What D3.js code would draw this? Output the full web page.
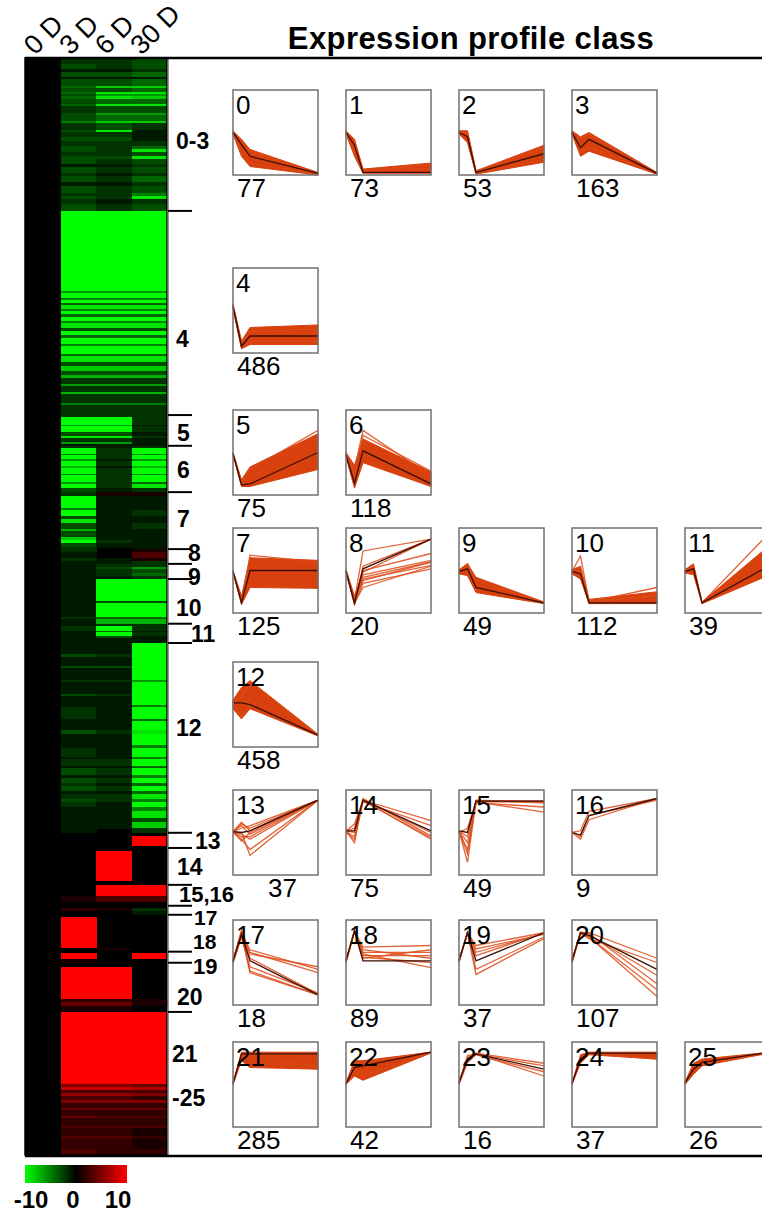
<!DOCTYPE html>
<html>
<head>
<meta charset="utf-8">
<script src="https://cdn.jsdelivr.net/npm/d3@7"></script>
<style>
  body { margin: 0; background: #fff; }
  svg { display: block; font-family: "Liberation Sans", Arial, sans-serif; }
</style>
</head>
<body>
<div id="chart"></div>
<script>
// ---- data ----
var timePoints = [0, 3, 6, 30];
var timeLabels = ['0 D', '3 D', '6 D', '30 D'];

// heatmap groups, top to bottom, and their height in heatmap rows
var groupLabels = ['0-3', '4', '5', '6', '7', '8', '9', '10', '11', '12',
                   '13', '14', '15,16', '17', '18', '19', '20', '21-25'];
var groupRows = [373, 498, 75, 113, 139, 36, 37, 109, 47, 463,
                 37, 90, 51, 22, 90, 27, 120, 349];

// stripes inside each group: [relative size, 3 D, 6 D, 30 D] (0 D is the reference = 0)
var groupStripes = [
  [[6,-2,-2,-3],[4,-3,-2,-3],[3,-1,-1,-2],[5,-3,-3,-4],[2,-1,-1,-1],[6,-3,-3,-4],
   [2,-4,-8,-8],[4,-3,-3,-4],[2,-4,-9,-9],[2,-3,-6,-6],[2,-4,-9,-8],[5,-3,-4,-4],
   [2,-4,-9,-9],[6,-2,-3,-3],[2,-3,-6,-6],[6,-3,-4,-4],[2,-5,-8,-8],[6,-2,-3,-2],
   [2,-3,-9,-1],[5,-2,-2,-1],[4,-3,-3,-1],[4,-2,-2,-2],[3,-3,-2,-4],[3,-3,-2,-9],
   [4,-2,-2,-3],[2,-3,-3,-9],[5,-3,-2,-3],[3,-1,-1,-2],[6,-3,-2,-3],[2,-2,-1,-2],
   [6,-3,-2,-4],[4,-1,-1,-2],[6,-3,-2,-3],[3,-2,-2,-5],[3,-3,-2,-9],[5,-2,-1,-2],
   [6,-3,-2,-3]],
  [[78,-10,-10,-10],[2,-6,-6,-6],[4,-10,-10,-10],[2,-5,-5,-5],[3,-10,-10,-10],
   [2,-4,-4,-4],[4,-9,-9,-9],[2,-5,-5,-5],[3,-10,-10,-10],[3,-4,-4,-4],
   [4,-10,-10,-10],[2,-5,-5,-5],[5,-9,-9,-9],[2,-3,-3,-3],[4,-10,-10,-10],
   [3,-4,-4,-4],[6,-10,-10,-10],[2,-5,-5,-5],[8,-10,-10,-10],[2,-4,-4,-4],
   [6,-9,-9,-9],[3,-3,-3,-3],[5,-8,-8,-8],[4,-3,-3,-3],[3,-7,-7,-7],[6,-2,-2,-2],
   [2,-6,-6,-6],[6,-2,-2,-2],[2,-7,-7,-7],[8,-2,-2,-2],[2,-5,-5,-5],[10,-2,-2,-2]],
  [[2,-2,-2,-2],[8,-10,-10,-2],[1,-6,-6,-1],[6,-10,-10,-2],[4,-3,-3,-1],
   [2,-9,-9,-2],[4,-2,-2,-1],[2,-6,-6,-1],[2,-1,-1,-1]],
  [[2,-2,-1,-2],[6,-10,-2,-10],[1,-5,-2,-5],[4,-10,-2,-10],[1,-6,-1,-6],
   [5,-10,-2,-10],[2,-7,-1,-7],[6,-10,-2,-10],[1,-5,-2,-5],[6,-10,-2,-10],
   [2,-6,-2,-4],[4,-10,-2,-9],[4,-3,-1,-2]],
  [[4,-2,1,1],[12,-10,-1,-1],[2,-5,-1,-1],[6,-10,-1,-2],[3,-3,-1,-1],[4,-9,-1,-1],
   [6,-3,-1,-2],[2,-7,-1,-1],[6,-3,-1,-1],[3,-8,-1,-1],[3,-10,-2,-1],[4,-3,-1,-1],
   [2,-2,0,-1]],
  [[3,-2,0,1],[6,-1,0,3],[3,-2,-1,1],[3,-1,-1,-2]],
  [[3,-1,-2,-2],[2,-1,-3,-6],[4,-1,-2,-3],[3,-1,-2,-4],[3,-1,-1,-2]],
  [[22,-1,-10,-10],[2,-1,-3,-3],[14,-1,-10,-10],[2,-2,-4,-4],[5,-1,-7,-7]],
  [[2,-1,-2,-2],[5,-2,-10,-2],[1,-1,-4,-1],[4,-1,-10,-2],[2,-1,-3,-1],[5,-1,-1,-1]],
  [[10,-1,-1,-10],[2,-3,-2,-10],[8,-1,-1,-10],[2,-3,-3,-10],[10,-1,-1,-10],
   [2,-2,-2,-6],[10,-1,-1,-10],[2,-3,-2,-10],[8,-1,-1,-10],[2,-1,-1,-5],
   [10,-2,-1,-10],[2,-1,-1,-4],[8,-1,-1,-10],[3,-3,-2,-9],[10,-1,-1,-10],
   [2,-1,-1,-5],[8,-2,-1,-10],[2,-1,-1,-5],[6,-2,-2,-10],[2,-1,-1,-4],
   [6,-3,-2,-10],[2,-1,-1,-5],[5,-3,-2,-10],[2,-2,-1,-4],[5,-3,-2,-10],
   [2,-1,-1,-4],[5,-2,-2,-9],[2,-3,-2,-5],[5,-2,-1,-10],[3,-1,-1,-5],
   [6,-1,-1,-9],[4,-1,-1,-3],[5,-1,-1,-8],[4,-1,0,-2]],
  [[3,0,0,0],[10,0,0,10],[2,0,0,0]],
  [[3,0,0,0],[30,0,10,0],[4,0,0,0]],
  [[11,0,10,10],[6,1,3,3],[4,0,0,0]],
  [[2,0,0,0],[3,2,1,-2],[4,0,0,-1]],
  [[2,0,0,0],[31,10,0,0],[2,0,1,0],[2,0,0,0]],
  [[1,0,0,0],[6,10,0,10],[4,1,0,0]],
  [[4,0,0,0],[32,10,10,0],[3,2,2,1],[4,4,4,1],[6,1,1,0]],
  [[72,10,10,10],[3,5,5,4],[3,8,8,7],[3,3,3,3],[3,6,6,5],[4,3,3,2],[3,5,5,5],
   [5,2,2,2],[2,4,4,4],[6,2,2,2],[2,4,3,3],[8,2,2,2],[2,3,3,3],[8,2,2,1],
   [3,3,3,2],[10,2,2,1],[6,3,2,2]]
];

// expression profile classes 0..25: number of genes
var classCounts = [77, 73, 53, 163, 486, 75, 118, 125, 20, 49, 112, 39, 458,
                   37, 75, 49, 9, 18, 89, 37, 107, 285, 42, 16, 37, 26];

// scaled profiles (0 = bottom of panel, 1 = top) at 0, 3, 6, 30 D
var profileMean = [
  [0.5,0.36,0.22,0.02], [0.5,0.35,0.03,0.03], [0.5,0.45,0.03,0.25], [0.5,0.32,0.42,0.02],
  [0.55,0.08,0.2,0.2], [0.49,0.12,0.13,0.5], [0.47,0.14,0.52,0.13], [0.49,0.12,0.5,0.5],
  [0.49,0.12,0.52,0.87], [0.49,0.52,0.3,0.12], [0.49,0.46,0.12,0.12], [0.49,0.52,0.12,0.56],
  [0.52,0.52,0.5,0.14], [0.51,0.5,0.52,0.88], [0.52,0.52,0.88,0.52], [0.52,0.5,0.87,0.87],
  [0.5,0.47,0.7,0.9], [0.52,0.83,0.52,0.12], [0.52,0.87,0.52,0.52], [0.52,0.85,0.52,0.85],
  [0.52,0.85,0.82,0.42], [0.51,0.86,0.86,0.86], [0.51,0.7,0.72,0.88], [0.52,0.8,0.86,0.68],
  [0.51,0.8,0.87,0.87], [0.52,0.68,0.76,0.88]
];
var profileLo = [
  [0.48,0.22,0.1,0.0], [0.48,0.22,0.02,0.02], [0.48,0.38,0.01,0.15], [0.48,0.22,0.28,0.01],
  [0.52,0.05,0.1,0.1], [0.47,0.1,0.1,0.3], [0.45,0.08,0.38,0.1], [0.48,0.1,0.3,0.29],
  null, [0.46,0.44,0.24,0.11], [0.46,0.4,0.11,0.11], [0.47,0.45,0.11,0.45],
  [0.45,0.33,0.45,0.13], null, null, null,
  null, null, null, null,
  null, [0.5,0.78,0.7,0.68], [0.5,0.6,0.55,0.87], null,
  [0.5,0.75,0.85,0.8], [0.5,0.62,0.72,0.87]
];
var profileHi = [
  [0.52,0.42,0.3,0.03], [0.52,0.42,0.07,0.14], [0.52,0.52,0.05,0.35], [0.52,0.45,0.5,0.03],
  [0.58,0.14,0.3,0.33], [0.5,0.18,0.33,0.72], [0.5,0.35,0.66,0.27], [0.5,0.2,0.65,0.62],
  null, [0.51,0.58,0.42,0.13], [0.51,0.55,0.16,0.25], [0.51,0.58,0.13,0.8],
  [0.55,0.7,0.78,0.15], null, null, null,
  null, null, null, null,
  null, [0.52,0.88,0.88,0.88], [0.52,0.78,0.78,0.88], null,
  [0.52,0.85,0.88,0.88], [0.53,0.75,0.8,0.88]
];
var profileLines = [
  [[0.5,0.4,0.28,0.02],[0.49,0.26,0.14,0.01]],
  [[0.5,0.4,0.05,0.12],[0.5,0.3,0.03,0.08]],
  [[0.5,0.5,0.04,0.32],[0.49,0.4,0.02,0.18]],
  [[0.5,0.42,0.48,0.02],[0.49,0.26,0.32,0.01]],
  [[0.55,0.12,0.25,0.28],[0.54,0.06,0.14,0.14]],
  [[0.49,0.14,0.3,0.76],[0.49,0.12,0.2,0.68]],
  [[0.47,0.3,0.76,0.22],[0.47,0.25,0.7,0.28]],
  [[0.49,0.12,0.68,0.6]],
  [[0.49,0.15,0.73,0.87],[0.5,0.1,0.55,0.87],[0.49,0.12,0.48,0.87],[0.48,0.14,0.42,0.6],
   [0.49,0.1,0.35,0.52],[0.5,0.18,0.4,0.56],[0.49,0.12,0.3,0.55],[0.5,0.2,0.45,0.62],
   [0.49,0.15,0.5,0.7],[0.5,0.14,0.38,0.6]],
  [[0.49,0.58,0.38,0.12]],
  [[0.49,0.67,0.14,0.2],[0.49,0.5,0.13,0.3],[0.5,0.45,0.12,0.22]],
  [[0.49,0.55,0.12,0.95]],
  [[0.52,0.6,0.77,0.14],[0.5,0.35,0.5,0.14]],
  [[0.51,0.62,0.52,0.88],[0.51,0.45,0.45,0.88],[0.5,0.5,0.23,0.88],[0.51,0.55,0.58,0.88],
   [0.5,0.42,0.3,0.88],[0.52,0.58,0.48,0.88],[0.51,0.48,0.42,0.88],[0.5,0.6,0.55,0.88],
   [0.51,0.4,0.5,0.88]],
  [[0.52,0.38,0.88,0.42],[0.52,0.55,0.88,0.64],[0.51,0.45,0.9,0.46],[0.52,0.5,0.86,0.58],
   [0.52,0.6,0.88,0.5],[0.5,0.42,0.87,0.44]],
  [[0.52,0.15,0.87,0.87],[0.51,0.3,0.86,0.74],[0.52,0.45,0.88,0.86],[0.52,0.38,0.85,0.8],
   [0.5,0.55,0.87,0.85],[0.52,0.25,0.86,0.87]],
  [[0.5,0.42,0.65,0.9],[0.5,0.52,0.75,0.9],[0.51,0.45,0.7,0.88]],
  [[0.52,0.85,0.65,0.42],[0.5,0.8,0.62,0.38],[0.52,0.88,0.6,0.45],[0.5,0.82,0.4,0.12],
   [0.52,0.85,0.38,0.12],[0.5,0.8,0.45,0.14],[0.52,0.86,0.55,0.13]],
  [[0.52,0.87,0.68,0.7],[0.52,0.87,0.62,0.62],[0.5,0.86,0.58,0.58],[0.52,0.88,0.55,0.65],
   [0.52,0.87,0.6,0.44],[0.51,0.86,0.65,0.55],[0.52,0.87,0.56,0.5]],
  [[0.52,0.85,0.7,0.85],[0.52,0.85,0.62,0.84],[0.5,0.86,0.42,0.8],[0.52,0.85,0.36,0.78],
   [0.52,0.84,0.58,0.85],[0.51,0.85,0.66,0.83]],
  [[0.52,0.85,0.85,0.55],[0.5,0.85,0.8,0.1],[0.52,0.86,0.84,0.25],[0.52,0.84,0.78,0.5],
   [0.52,0.85,0.82,0.35],[0.5,0.85,0.8,0.18]],
  [[0.51,0.84,0.8,0.72]],
  [[0.51,0.66,0.6,0.88],[0.5,0.75,0.76,0.88]],
  [[0.52,0.8,0.86,0.6],[0.52,0.82,0.87,0.75],[0.5,0.76,0.85,0.65],[0.52,0.84,0.86,0.72]],
  [[0.51,0.78,0.86,0.8]],
  [[0.51,0.64,0.74,0.88]]
];

var legendTicks = [-10, 0, 10];

// ---- layout ----
var width = 762, height = 1213;
var heatTop = 58, heatBottom = 1155, heatLeft = 25, heatRight = 167;
var plotSize = 85;
// panel grid: row / column of each class
var classGridRow = [0,0,0,0,1,2,2,3,3,3,3,3,4,5,5,5,5,6,6,6,6,7,7,7,7,7];
var classGridCol = [0,1,2,3,0,0,1,0,1,2,3,4,0,0,1,2,3,0,1,2,3,0,1,2,3,4];
var gridRowTop = [90, 268, 410, 528, 662, 790, 920, 1042];
// label placement next to the heatmap
var labelY = [141, 339, 433, 470, 519, 553, 577, 608, 634, 728, 841, 867, 894, 917, 941, 966, 997, 1054];
var labelX = [176, 176, 177, 177, 177, 188, 188, 176, 191, 176, 195, 177, 179, 194, 193, 193, 177, 172];
var labelSize = [23, 23, 23, 23, 23, 23, 23, 23, 23, 23, 23, 23, 22, 21, 21, 22, 23, 23];

var color = d3.scaleLinear()
    .domain([-10, 0, 10])
    .range(['#00ff00', '#000000', '#ff0000'])
    .clamp(true);

var svg = d3.select('#chart').append('svg')
    .attr('width', width)
    .attr('height', height);

// ---- heatmap ----
var totalRows = d3.sum(groupRows);
var y = d3.scaleLinear().domain([0, totalRows]).range([heatTop, heatBottom]);
var x = d3.scaleBand().domain(timeLabels).range([heatLeft, heatRight]);

var cells = [];
var groupStart = [];
var r = 0;
groupStripes.forEach(function (stripes, g) {
  groupStart.push(r);
  var w = d3.sum(stripes, function (s) { return s[0]; });
  var rr = r;
  stripes.forEach(function (s) {
    var n = s[0] / w * groupRows[g];
    var vals = [0, s[1], s[2], s[3]];
    vals.forEach(function (v, c) {
      cells.push({r0: rr, r1: rr + n, col: timeLabels[c], v: v});
    });
    rr += n;
  });
  r += groupRows[g];
});
groupStart.push(r);

// black backing so no seams show between rows
svg.append('rect')
  .attr('x', heatLeft).attr('y', heatTop)
  .attr('width', heatRight - heatLeft).attr('height', heatBottom - heatTop)
  .attr('fill', '#000');

svg.append('g').attr('class', 'heatmap')
  .attr('shape-rendering', 'crispEdges')
  .selectAll('rect')
  .data(cells.filter(function (d) { return d.v !== 0; }))
  .enter().append('rect')
    .attr('x', function (d) { return x(d.col); })
    .attr('width', x.bandwidth() + 0.5)
    .attr('y', function (d) { return y(d.r0); })
    .attr('height', function (d) { return y(d.r1) - y(d.r0) + 0.4; })
    .attr('fill', function (d) { return color(d.v); });

// heatmap border
svg.append('rect')
  .attr('x', heatLeft).attr('y', heatTop)
  .attr('width', heatRight - heatLeft).attr('height', heatBottom - heatTop)
  .attr('fill', 'none').attr('stroke', '#000').attr('stroke-width', 1.5);
svg.append('line')
  .attr('x1', heatRight + 1).attr('x2', heatRight + 1)
  .attr('y1', heatTop).attr('y2', heatBottom)
  .attr('stroke', '#777').attr('stroke-width', 1.5);

// frame lines of the whole figure
svg.append('line')
  .attr('x1', heatLeft).attr('x2', width).attr('y1', heatTop).attr('y2', heatTop)
  .attr('stroke', '#000').attr('stroke-width', 2.5);
svg.append('line')
  .attr('x1', heatLeft).attr('x2', width).attr('y1', heatBottom + 1).attr('y2', heatBottom + 1)
  .attr('stroke', '#000').attr('stroke-width', 2.5);

// column labels
svg.append('g')
  .selectAll('text')
  .data(timeLabels)
  .enter().append('text')
    .attr('transform', function (d) {
      return 'translate(' + (x(d) + 10) + ',' + (heatTop - 2) + ') rotate(-45)';
    })
    .style('font-size', '27px')
    .text(function (d) { return d; });

// group brackets
svg.append('g')
  .selectAll('line')
  .data(groupStart.slice(1, -1))
  .enter().append('line')
    .attr('x1', heatRight + 1).attr('x2', heatRight + 25)
    .attr('y1', function (d) { return y(d); })
    .attr('y2', function (d) { return y(d); })
    .attr('stroke', '#000').attr('stroke-width', 2);

var labels = svg.append('g')
  .selectAll('text')
  .data(groupLabels)
  .enter().append('text')
    .attr('x', function (d, i) { return labelX[i]; })
    .attr('y', function (d, i) { return labelY[i]; })
    .attr('dy', '0.36em')
    .style('font-size', function (d, i) { return labelSize[i] + 'px'; })
    .style('font-weight', 'bold');
labels.each(function (d, i) {
  var t = d3.select(this);
  if (d === '21-25') {
    t.append('tspan').attr('x', labelX[i]).text('21');
    t.append('tspan').attr('x', labelX[i]).attr('dy', '1.9em').text('-25');
  } else {
    t.text(d);
  }
});

// title
svg.append('text')
  .attr('x', 471).attr('y', 49)
  .attr('text-anchor', 'middle')
  .style('font-size', '31px')
  .style('font-weight', 'bold')
  .style('letter-spacing', '0.4px')
  .text('Expression profile class');

// ---- profile panels ----
var px = d3.scaleLinear().domain([0, 30]).range([0, plotSize]);
var py = d3.scaleLinear().domain([0, 1]).range([plotSize, 0]);

var line = d3.line()
    .x(function (d, i) { return px(timePoints[i]); })
    .y(function (d) { return py(d); });

var area = d3.area()
    .x(function (d) { return px(d.t); })
    .y0(function (d) { return py(d.lo); })
    .y1(function (d) { return py(d.hi); });

var panels = svg.append('g').attr('class', 'panels')
  .selectAll('g')
  .data(classCounts.map(function (n, i) { return {id: i, n: n}; }))
  .enter().append('g')
    .attr('transform', function (d) {
      return 'translate(' + (233 + classGridCol[d.id] * 113) + ',' + gridRowTop[classGridRow[d.id]] + ')';
    });

panels.each(function (d) {
  var g = d3.select(this);
  var lo = profileLo[d.id], hi = profileHi[d.id];
  if (lo && hi) {
    g.append('path')
      .datum(timePoints.map(function (t, k) { return {t: t, lo: lo[k], hi: hi[k]}; }))
      .attr('d', area)
      .attr('fill', '#d8400e')
      .attr('stroke', '#d8400e')
      .attr('stroke-width', 1);
  }
  g.selectAll('.member')
    .data(profileLines[d.id])
    .enter().append('path')
      .attr('class', 'member')
      .attr('d', line)
      .attr('fill', 'none')
      .attr('stroke', '#dc4a16')
      .attr('stroke-opacity', 0.85)
      .attr('stroke-width', 1.3);
  g.append('path')
    .attr('d', line(profileMean[d.id]))
    .attr('fill', 'none')
    .attr('stroke', '#3a1006')
    .attr('stroke-width', 1.3);
  g.append('rect')
    .attr('width', plotSize).attr('height', plotSize)
    .attr('fill', 'none')
    .attr('stroke', '#707070')
    .attr('stroke-width', 1.5);
  g.append('text')
    .attr('x', 3).attr('y', 24)
    .style('font-size', '26px')
    .text(d.id);
  g.append('text')
    .attr('x', d.id === 13 ? 35 : 4)
    .attr('y', plotSize + 22)
    .style('font-size', '26px')
    .text(d.n);
});

// ---- colour legend ----
var legendX = d3.scaleLinear().domain([-10, 10]).range([25, 127]);
var grad = svg.append('defs').append('linearGradient')
    .attr('id', 'legend-grad');
grad.selectAll('stop')
  .data(legendTicks)
  .enter().append('stop')
    .attr('offset', function (d) { return ((d + 10) / 20 * 100) + '%'; })
    .attr('stop-color', function (d) { return color(d); });

svg.append('rect')
  .attr('x', legendX(-10)).attr('y', 1165)
  .attr('width', legendX(10) - legendX(-10)).attr('height', 18)
  .attr('fill', 'url(#legend-grad)');

svg.append('g')
  .selectAll('text')
  .data(legendTicks)
  .enter().append('text')
    .attr('x', function (d) { return legendX(d) + (d < 0 ? 6 : d > 0 ? -9 : -3); })
    .attr('y', 1208)
    .attr('text-anchor', 'middle')
    .style('font-size', '24px')
    .style('font-weight', 'bold')
    .text(function (d) { return d; });
</script>
</body>
</html>
